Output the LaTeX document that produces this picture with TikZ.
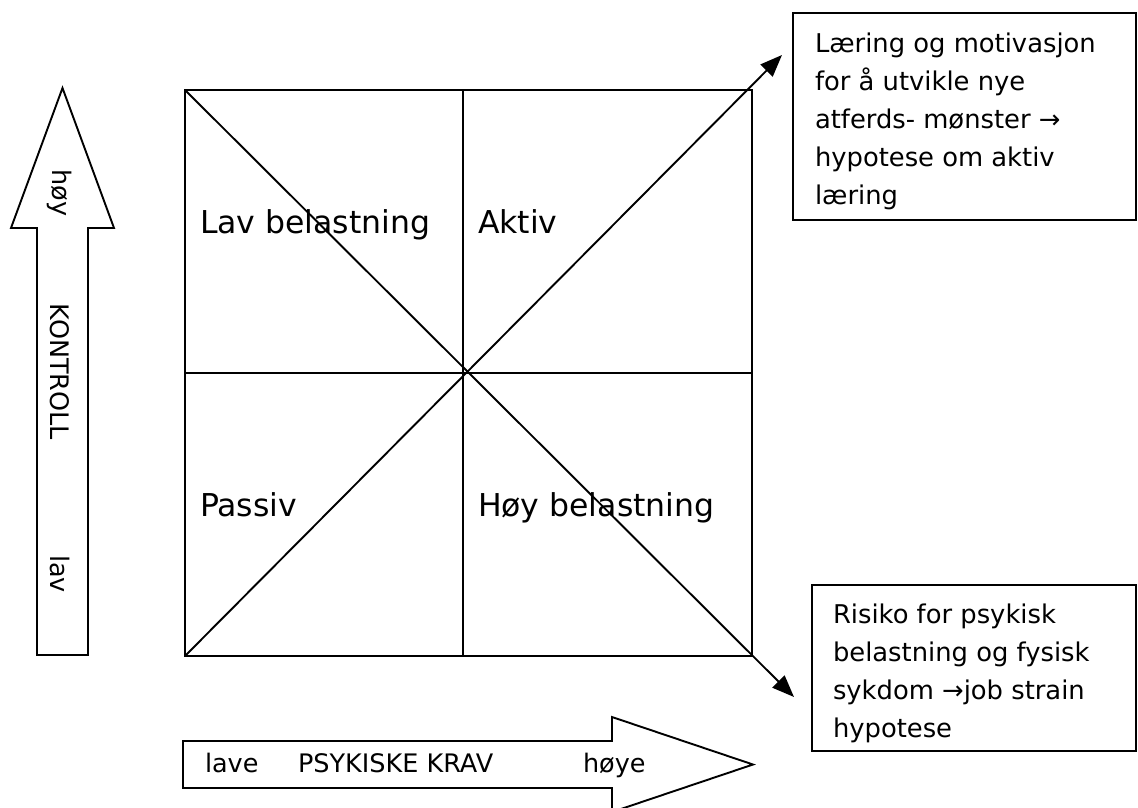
\documentclass[tikz,border=0pt]{standalone}
\usepackage{fontspec}
\setmainfont{DejaVu Sans}
\usetikzlibrary{arrows.meta}
\begin{document}
\begin{tikzpicture}[x=1pt,y=-1pt, line width=1.9pt,
  every node/.style={inner sep=0pt, outer sep=0pt},
  quad/.style={font=\fontsize{31.5}{36}\selectfont, anchor=base west},
  axislbl/.style={font=\fontsize{25.5}{30}\selectfont},
  note/.style={font=\fontsize{25.8}{38.2}\selectfont, align=left, anchor=north west},
  notebox/.style={draw, line width=1.9pt, anchor=north west},
  diag/.style={-{Triangle[length=22pt,width=17pt]}},
  bigarrow/.style={draw, line width=1.9pt, fill=white}]

\useasboundingbox (0,0) rectangle (1138,807);

% big axis arrows
\draw[bigarrow] (37,655) -- (37,228) -- (11,228) -- (62.5,88) -- (114,228) -- (88,228) -- (88,655) -- cycle;
\draw[bigarrow] (183,741) -- (612,741) -- (612,717) -- (753,764.5) -- (612,812) -- (612,788) -- (183,788) -- cycle;

\node[axislbl, rotate=-90] (hoy) at (60,193) {høy};
\node[axislbl, rotate=-90] (kontroll) at (60,372) {KONTROLL};
\node[axislbl, rotate=-90] (lav) at (60,574) {lav};

\node[axislbl, anchor=base west] (lave) at (205,772) {lave};
\node[axislbl, anchor=base west] (krav) at (298,772) {PSYKISKE KRAV};
\node[axislbl, anchor=base west] (hoye) at (583,772) {høye};

% grid
\coordinate (tl) at (185,90);
\coordinate (tr) at (752,90);
\coordinate (bl) at (185,656);
\coordinate (br) at (752,656);
\coordinate (tm) at (463,90);
\coordinate (bm) at (463,656);
\coordinate (ml) at (185,373);
\coordinate (mr) at (752,373);
\draw (tl) rectangle (br);
\draw (tm) -- (bm);
\draw (ml) -- (mr);

% quadrant labels
\node[quad] (lavbel) at (200,233) {Lav belastning};
\node[quad] (aktiv) at (478,233) {Aktiv};
\node[quad] (passiv) at (200,516) {Passiv};
\node[quad] (hoybel) at (478,516) {Høy belastning};

% diagonals
\coordinate (tipA) at (782,55);
\coordinate (tipB) at (794,697);
\draw[diag] (bl) -- (tipA);
\draw[diag] (tl) -- (tipB);

% note boxes
\node[notebox, minimum width=343pt, minimum height=207pt] (boxA) at (793,13) {};
\node[note] (txtA) at (815,32.4) {Læring og motivasjon\\for å utvikle nye\\atferds- mønster →\\hypotese om aktiv\\læring};
\node[notebox, minimum width=324pt, minimum height=166pt] (boxB) at (812,585) {};
\node[note] (txtB) at (833,603.4) {Risiko for psykisk\\belastning og fysisk\\sykdom →job strain\\hypotese};
\end{tikzpicture}
\end{document}
